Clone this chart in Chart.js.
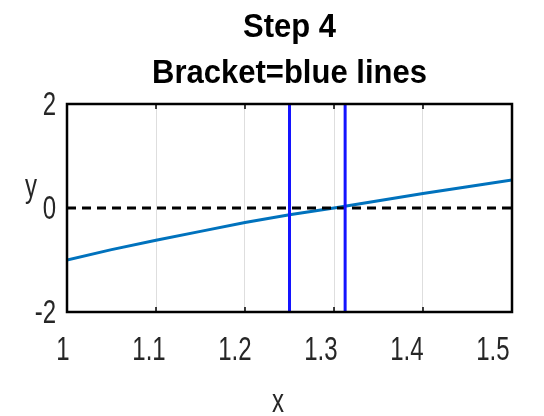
<!DOCTYPE html>
<html>
<head>
<meta charset="utf-8">
<script src="https://cdn.jsdelivr.net/npm/chart.js@4"></script>
<style>
  html, body { margin: 0; padding: 0; background: #fff; }
  #wrap { width: 544px; height: 416px; }
</style>
</head>
<body>
<div id="wrap"><canvas id="c" width="544" height="416"></canvas></div>
<script>
// Function samples on [1, 1.5]
const xValues = [1.00, 1.05, 1.10, 1.15, 1.20, 1.25, 1.30, 1.35, 1.40, 1.45, 1.50];
const yValues = [-1.00, -0.80, -0.62, -0.45, -0.28, -0.13, 0.00, 0.14, 0.28, 0.41, 0.54];

// Current bisection bracket
const bracket = [1.25, 1.3125];

// Axis ranges and tick labels
const xRange = [1, 1.5];
const yRange = [-2, 2];
const xTicks = [1, 1.1, 1.2, 1.3, 1.4, 1.5];
const xTickLabels = ['1', '1.1', '1.2', '1.3', '1.4', '1.5'];
const yTicks = [-2, 0, 2];
const yTickLabels = ['-2', '0', '2'];

const titleLines = ['Step 4', 'Bracket=blue lines'];
const xLabel = 'x';
const yLabel = 'y';

const curve = xValues.map((x, i) => ({ x, y: yValues[i] }));
const zeroLine = xRange.map(x => ({ x, y: 0 }));
const bracketSets = bracket.map(b => ({
  data: yRange.map(y => ({ x: b, y })),
  borderColor: '#1414ff',
  borderWidth: 3,
  showLine: true,
  pointRadius: 0,
  order: 0
}));

function tallText(ctx, text, x, y, font, sy, align, color) {
  ctx.save();
  ctx.translate(x, y);
  ctx.scale(1, sy);
  ctx.font = font;
  ctx.fillStyle = color;
  ctx.textAlign = align;
  ctx.textBaseline = 'middle';
  ctx.fillText(text, 0, 0);
  ctx.restore();
}

// Box, inward ticks and all text, placed through the chart scales
const frame = {
  id: 'frame',
  afterDraw(chart) {
    const ctx = chart.ctx;
    const a = chart.chartArea;
    const xs = chart.scales.x, ys = chart.scales.y;
    ctx.save();
    ctx.strokeStyle = '#000';
    ctx.lineWidth = 1.5;
    ctx.beginPath();
    xTicks.forEach(t => {
      const px = xs.getPixelForValue(t);
      ctx.moveTo(px, a.bottom); ctx.lineTo(px, a.bottom - 5);
      ctx.moveTo(px, a.top); ctx.lineTo(px, a.top + 5);
    });
    yTicks.forEach(t => {
      const py = ys.getPixelForValue(t);
      ctx.moveTo(a.left, py); ctx.lineTo(a.left + 5, py);
      ctx.moveTo(a.right, py); ctx.lineTo(a.right - 5, py);
    });
    ctx.stroke();
    ctx.lineWidth = 2.5;
    ctx.strokeRect(a.left, a.top, a.right - a.left, a.bottom - a.top);
    ctx.restore();

    const tickFont = '24px "Liberation Sans", Arial, sans-serif';
    const tickColor = '#262626';
    // labels sit slightly left of their ticks, drifting further toward the right end
    const labelX = px => a.left - 4 + (px - a.left) * 0.966;
    xTicks.forEach((t, i) => {
      tallText(ctx, xTickLabels[i], labelX(xs.getPixelForValue(t)), a.bottom + 39, tickFont, 1.35, 'center', tickColor);
    });
    yTicks.forEach((t, i) => {
      tallText(ctx, yTickLabels[i], a.left - 11, ys.getPixelForValue(t) + 2, tickFont, 1.35, 'right', tickColor);
    });
    tallText(ctx, xLabel, labelX((a.left + a.right) / 2), a.bottom + 91, tickFont, 1.35, 'center', tickColor);
    tallText(ctx, yLabel, 31, ys.getPixelForValue(0) - 20, tickFont, 1.35, 'center', tickColor);

    const titleFont = 'bold 31px "Liberation Sans", Arial, sans-serif';
    const cx = (a.left + a.right) / 2;
    tallText(ctx, titleLines[0], cx, 28, titleFont, 1.05, 'center', '#000');
    tallText(ctx, titleLines[1], cx, 74, titleFont, 1.05, 'center', '#000');
  }
};

new Chart(document.getElementById('c'), {
  type: 'scatter',
  data: {
    datasets: [
      ...bracketSets,
      {
        data: zeroLine,
        borderColor: '#000',
        borderWidth: 3,
        borderDash: [9, 6],
        showLine: true,
        pointRadius: 0,
        order: 1
      },
      {
        data: curve,
        borderColor: '#0072bd',
        borderWidth: 3,
        showLine: true,
        pointRadius: 0,
        tension: 0,
        order: 2
      }
    ]
  },
  options: {
    responsive: false,
    animation: false,
    devicePixelRatio: 1,
    layout: { padding: { left: 67, right: 32, top: 104, bottom: 104 } },
    plugins: { legend: { display: false }, tooltip: { enabled: false }, title: { display: false } },
    scales: {
      x: {
        type: 'linear',
        min: xRange[0],
        max: xRange[1],
        afterBuildTicks: s => { s.ticks = xTicks.map(v => ({ value: v })); },
        ticks: { display: false },
        grid: { color: '#dedede', lineWidth: 1, drawTicks: false },
        border: { display: false }
      },
      y: {
        type: 'linear',
        min: yRange[0],
        max: yRange[1],
        afterBuildTicks: s => { s.ticks = yTicks.map(v => ({ value: v })); },
        ticks: { display: false },
        grid: { display: false, drawTicks: false },
        border: { display: false }
      }
    }
  },
  plugins: [frame]
});
</script>
</body>
</html>
